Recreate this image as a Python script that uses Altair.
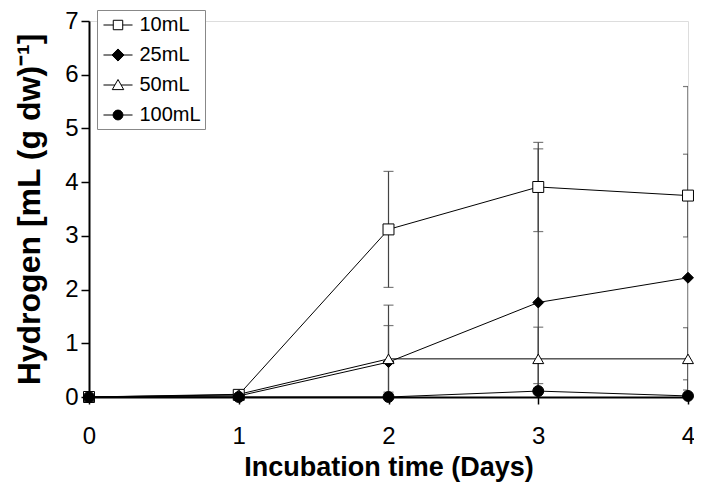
import altair as alt
import pandas as pd

days = [0, 1, 2, 3, 4]
series_names = ["10mL", "25mL", "50mL", "100mL"]
h10 = [0.0, 0.04, 3.12, 3.91, 3.75]
e10 = [0.0, 0.03, 1.08, 0.83, 0.77]
h25 = [0.0, 0.02, 0.65, 1.76, 2.22]
e25 = [0.0, 0.02, 1.06, 2.86, 3.56]
h50 = [0.0, 0.05, 0.71, 0.71, 0.71]
e50 = [0.0, 0.03, 0.62, 0.59, 0.58]
h100 = [0.0, 0.0, 0.0, 0.11, 0.02]
e100 = [0.0, 0.02, 0.05, 0.14, 0.30]

means = [h10, h25, h50, h100]
errs = [e10, e25, e50, e100]
rows = []
for name, m, e in zip(series_names, means, errs):
    for d, v, s in zip(days, m, e):
        rows.append({"day": d, "series": name, "h": v, "lo": v - s, "hi": v + s})
df = pd.DataFrame(rows)

FONT = "Liberation Sans"
shapes = ["square", "diamond", "triangle-up", "circle"]
fills = ["white", "black", "white", "black"]
strokes = ["black", "black", "black", "black"]
legend_paths = [
    "M-1.32,0H-0.43M0.43,0H1.32M-0.43,-0.43H0.43V0.43H-0.43Z",
    "M-1.32,0H-0.55M0.55,0H1.32M0,-0.55L0.55,0L0,0.55L-0.55,0Z",
    "M-1.32,0H-0.28M0.28,0H1.32M0,-0.5L0.52,0.42L-0.52,0.42Z",
    "M-1.32,0H-0.45M0.45,0H1.32M-0.45,0A0.45,0.45,0,1,1,0.45,0A0.45,0.45,0,1,1,-0.45,0Z",
]

xscale = alt.Scale(domain=[0, 4], nice=False, zero=False)
yscale = alt.Scale(domain=[0, 7], nice=False)
xenc = alt.X("day:Q", scale=xscale, title="Incubation time (Days)",
             axis=alt.Axis(values=days, format="d", grid=False, labelFontSize=24,
                           titleFontSize=27, titleFontWeight="bold", labelFont=FONT,
                           titleFont=FONT, domainColor="black", domainWidth=2,
                           tickColor="black", tickWidth=1.5, tickSize=7,
                           labelPadding=20, titlePadding=6, labelColor="black",
                           titleColor="black", labelFlush=False))
yenc = alt.Y("h:Q", scale=yscale, title="Hydrogen [mL (g dw)⁻¹]",
             axis=alt.Axis(values=list(range(8)), format="d", grid=False,
                           labelFontSize=24, titleFontSize=32, titleFontWeight="bold",
                           labelFont=FONT, titleFont=FONT, domainColor="black",
                           domainWidth=2, tickColor="black", tickWidth=1.5, tickSize=8,
                           labelPadding=3, titlePadding=18, labelColor="black",
                           titleColor="black"))

base = alt.Chart(df)

lines = base.mark_line(color="black", strokeWidth=1).encode(
    x=xenc, y=yenc, detail="series:N", order="day:Q")

bars = base.mark_rule(color="#444444", strokeWidth=1.2, clip=True).encode(
    x="day:Q", y="lo:Q", y2="hi:Q")
cap_hi = base.mark_tick(color="#444444", orient="horizontal", size=10,
                        thickness=1.2, clip=True).encode(x="day:Q", y="hi:Q")
cap_lo = base.mark_tick(color="#444444", orient="horizontal", size=10,
                        thickness=1.2, clip=True).encode(x="day:Q", y="lo:Q")

point_layers = []
for name, shp, fc in zip(series_names, shapes, fills):
    point_layers.append(
        base.transform_filter(alt.datum.series == name).mark_point(
            shape=shp, filled=True, fill=fc, stroke="black", strokeWidth=1,
            size=120, opacity=1).encode(x="day:Q", y="h:Q")
    )

leg = alt.Legend(orient="none", legendX=8, legendY=-11, title=None, padding=3.5,
                 symbolOffset=6, labelOffset=10, rowPadding=8, strokeColor="#888888",
                 fillColor="white", labelFont=FONT, labelFontSize=20,
                 labelColor="black", symbolStrokeColor="black", symbolStrokeWidth=1,
                 symbolSize=484, symbolOpacity=1)

legend_layer = base.mark_point(filled=True, strokeWidth=1, size=484,
                               opacity=0).encode(
    x="day:Q", y="h:Q",
    shape=alt.Shape("series:N", scale=alt.Scale(domain=series_names, range=legend_paths),
                    legend=leg),
    fill=alt.Fill("series:N", scale=alt.Scale(domain=series_names, range=fills),
                  legend=leg),
    stroke=alt.Stroke("series:N", scale=alt.Scale(domain=series_names, range=strokes),
                      legend=leg),
)

chart = alt.layer(lines, bars, cap_hi, cap_lo, *point_layers, legend_layer).properties(
    width=599, height=376,
    autosize=alt.AutoSizeParams(type="none"),
    padding={"left": 81, "top": 13, "right": 6, "bottom": 86},
).configure_view(stroke=None).configure(background="white")

chart.save("out.html", embed_options={"renderer": "svg", "actions": False})
